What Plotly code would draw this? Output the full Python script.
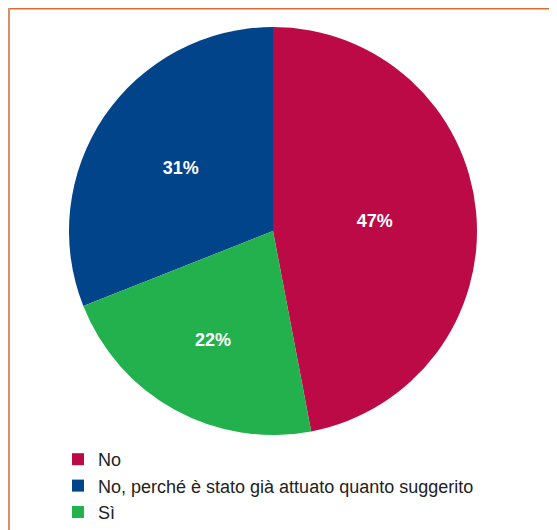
import plotly.graph_objects as go

labels = ["No", "No, perché è stato già attuato quanto suggerito", "Sì"]
values = [47, 31, 22]
colors = ["#BC0A47", "#01448A", "#22B14C"]

# page has an 8px body margin: figure origin sits at page (8, 8)
W, H = 549, 522
cx, cy, r = 265, 223, 204

fig = go.Figure(go.Pie(
    labels=labels,
    values=values,
    sort=False,
    direction="counterclockwise",
    rotation=0,
    marker=dict(colors=colors, line=dict(width=0)),
    texttemplate="%{value}%",
    textposition="inside",
    insidetextorientation="horizontal",
    textfont=dict(color="white", size=18, family="Liberation Sans, Arial, sans-serif", weight="bold"),
    hoverinfo="label+percent",
    domain=dict(x=[(cx - r) / W, (cx + r) / W], y=[1 - (cy + r) / H, 1 - (cy - r) / H]),
))

fig.update_layout(
    width=W, height=H,
    margin=dict(l=0, r=0, t=0, b=0, autoexpand=False),
    paper_bgcolor="white",
    plot_bgcolor="white",
    font=dict(family="Liberation Sans, Arial, sans-serif", color="#222222", size=18),
    legend=dict(
        x=50 / W, y=1 - 433 / H, xanchor="left", yanchor="top",
        bgcolor="rgba(0,0,0,0)",
        font=dict(size=18),
        tracegroupgap=0,
    ),
    shapes=[
        dict(type="line", xref="paper", yref="paper", x0=0, x1=1, y0=1 - 0.6 / H, y1=1 - 0.6 / H,
             line=dict(color="#DD6A35", width=2)),
        dict(type="line", xref="paper", yref="paper", x0=1 / W, x1=1 / W, y0=1, y1=0,
             line=dict(color="#D98E6A", width=2)),
    ],
)

fig.write_html("out.html")
